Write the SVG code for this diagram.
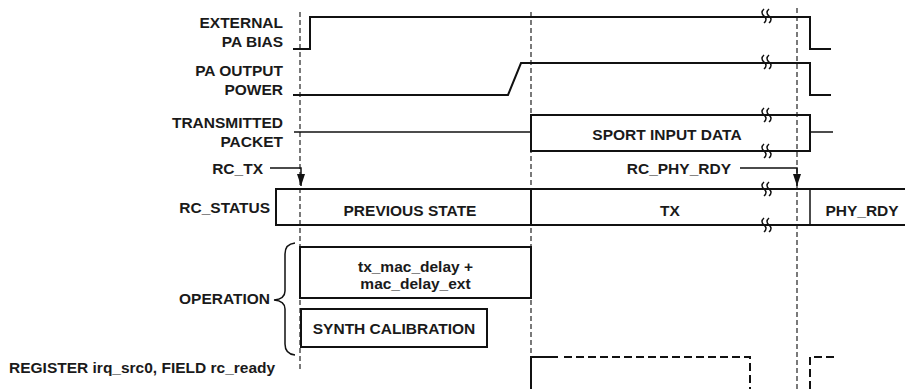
<svg xmlns="http://www.w3.org/2000/svg" width="905" height="389" viewBox="0 0 905 389">
<style>
text{font-family:"Liberation Sans",Arial,sans-serif;font-weight:bold;font-size:15.5px;fill:#1a1a1a}
.r{text-anchor:end}
.m{text-anchor:middle}
.sig{fill:none;stroke:#111;stroke-width:2}
.thin{fill:none;stroke:#111;stroke-width:1.5}
.guide{fill:none;stroke:#333;stroke-width:1.3;stroke-dasharray:5 3}
.dash{fill:none;stroke:#111;stroke-width:2;stroke-dasharray:8 4}
.brk{fill:none;stroke:#111;stroke-width:1.5}
</style>
<defs>
<marker id="ah" markerWidth="12" markerHeight="8" refX="12" refY="4" orient="auto" markerUnits="userSpaceOnUse" viewBox="0 0 12 8">
<path d="M0,0 L12,4 L0,8 Z" fill="#111"/>
</marker>
<g id="brkSym">
<path class="brk" d="M-1,-7 q-4,3.5 0,7 t0,7"/>
<path class="brk" d="M4,-7 q-4,3.5 0,7 t0,7"/>
</g>
</defs>

<g id="labels">
<text class="r" x="283" y="28">EXTERNAL</text>
<text class="r" x="283" y="47">PA BIAS</text>
<text class="r" x="283" y="76">PA OUTPUT</text>
<text class="r" x="283" y="95">POWER</text>
<text class="r" x="283" y="128">TRANSMITTED</text>
<text class="r" x="283" y="147">PACKET</text>
<text class="r" x="263" y="174">RC_TX</text>
<text class="r" x="731" y="174">RC_PHY_RDY</text>
<text class="r" x="270" y="213">RC_STATUS</text>
<text class="r" x="270" y="304">OPERATION</text>
<text x="9" y="373">REGISTER irq_src0, FIELD rc_ready</text>
</g>

<g id="guides">
<line class="guide" x1="300" y1="12" x2="300" y2="372"/>
<line class="guide" x1="531" y1="12" x2="531" y2="353"/>
<line class="guide" x1="797" y1="8" x2="797" y2="389"/>
</g>

<g id="external-pa-bias">
<polyline class="sig" points="293,49 310,49 310,17 810,17 810,49 831,49"/>
</g>
<g id="pa-output-power">
<polyline class="sig" points="293,95 508,95 521,63 810,63 810,95 831,95"/>
</g>
<g id="transmitted-packet">
<line class="thin" x1="294" y1="132" x2="531" y2="132"/>
<rect class="sig" x="531" y="115" width="279" height="36"/>
<line class="thin" x1="810" y1="132" x2="833" y2="132"/>
<text class="m" x="667" y="139.5">SPORT INPUT DATA</text>
</g>

<g id="rc-status">
<line class="sig" x1="276" y1="189" x2="905" y2="189"/>
<line class="sig" x1="276" y1="225" x2="905" y2="225"/>
<line class="sig" x1="276" y1="188" x2="276" y2="226"/>
<line class="sig" x1="531" y1="188" x2="531" y2="226"/>
<line class="thin" x1="810" y1="189" x2="810" y2="225"/>
<text class="m" x="410" y="215.5">PREVIOUS STATE</text>
<text class="m" x="670" y="215.5">TX</text>
<text class="m" x="862" y="215.5">PHY_RDY</text>
</g>

<g id="op-mac-delay">
<rect class="sig" x="300" y="247" width="231" height="51"/>
<text class="m" x="415.5" y="272">tx_mac_delay +</text>
<text class="m" x="415.5" y="289">mac_delay_ext</text>
</g>
<g id="op-synth-cal">
<rect class="sig" x="301" y="309" width="186" height="38"/>
<text class="m" x="394" y="334">SYNTH CALIBRATION</text>
</g>
<g id="operation-brace">
<path class="brk" d="M295,243 Q285,244 285,254 L285,291 Q285,299 274,300 Q285,301 285,309 L285,344 Q285,354 295,355"/>
</g>

<g id="rc-ready">
<polyline class="sig" points="531,389 531,357 558,357"/>
<polyline class="dash" points="564,357 750,357 750,389"/>
<polyline class="dash" points="810,389 810,357 836,357"/>
</g>

<g id="connectors">
<polyline class="thin" points="270,168 301,168 301,186" marker-end="url(#ah)"/>
<polyline class="thin" points="740,168 797,168 797,186" marker-end="url(#ah)"/>
</g>

<g id="breaks">
<use href="#brkSym" x="765" y="16"/>
<use href="#brkSym" x="765" y="62"/>
<use href="#brkSym" x="765" y="115"/>
<use href="#brkSym" x="765" y="151"/>
<use href="#brkSym" x="765" y="189"/>
<use href="#brkSym" x="765" y="225"/>
</g>
</svg>
